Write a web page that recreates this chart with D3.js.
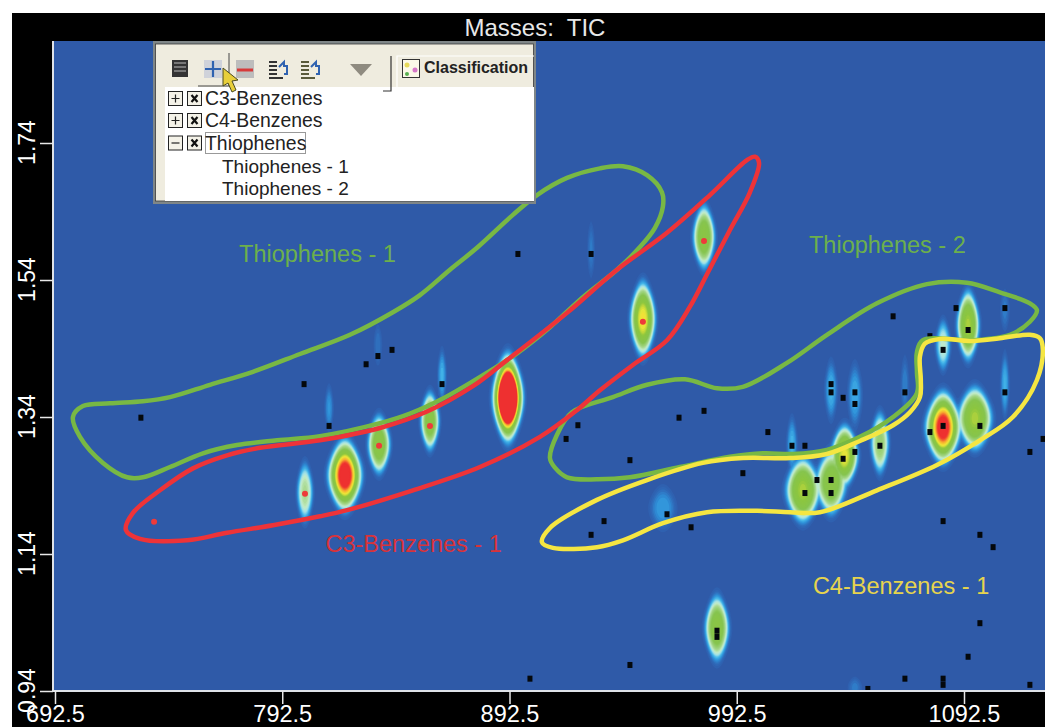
<!DOCTYPE html>
<html><head><meta charset="utf-8">
<script src="https://cdn.jsdelivr.net/npm/d3@7/dist/d3.min.js"></script>
<style>html,body{margin:0;padding:0;background:#fff;overflow:hidden}svg{display:block}text{font-family:"Liberation Sans",Arial,sans-serif}</style>
</head><body><svg id="c" width="1045" height="727"></svg>
<script>
const title = "Masses:  TIC";
const xTicks = [692.5, 792.5, 892.5, 992.5, 1092.5];
const yTicks = [0.94, 1.14, 1.34, 1.54, 1.74];

// chromatographic peaks [x, y, width, height, intensity]
const peaks = [
 [802.5,1.230,3.2,.039,.38],[820.1,1.255,6.2,.043,1.02],[835.1,1.300,4.3,.037,.62],[857.5,1.334,3.6,.037,.60],
 [891.8,1.368,5.4,.051,1.42],[951.2,1.483,4.7,.046,.80],[978.1,1.603,4.2,.040,.62],[983.8,1.032,4.6,.041,.62],
 [1021.6,1.233,6.4,.040,.72],[1034,1.244,5.8,.040,.62],[1040,1.284,5.0,.037,.78],[1055.5,1.302,3.6,.040,.45],
 [1083.3,1.325,6.4,.043,1.0],[1097.3,1.338,6.4,.039,.72],[1094.3,1.474,4.2,.043,.72],[1083.3,1.445,3.0,.034,.30],
 [1034,1.379,2.6,.041,.18],[1044.5,1.372,3,.044,.17],[1016.8,1.300,2.2,.038,.18],[1110.5,1.387,1.8,.044,.18],
 [1066.5,1.387,1.8,.041,.11],[960,1.207,5.5,.03,.15],[862.8,1.401,1.8,.036,.18],[813.1,1.353,1.8,.032,.14],
 [834.6,1.445,1.8,.03,.09],[928.4,1.584,1.6,.04,.10],[1044.5,.945,3,.015,.10],[1110.5,1.496,2,.03,.10]
];
const blackDots = [
 [730.3,1.339],[802.1,1.388],[813.1,1.327],[829.4,1.417],[834.6,1.429],[840.8,1.438],[862.8,1.388],[896.2,1.578],
 [928.4,1.578],[917.4,1.308],[922.6,1.328],[967.1,1.339],[978.1,1.349],[945.5,1.277],[995.2,1.258],[1006.2,1.318],
 [961.8,1.198],[972.4,1.179],[934.1,1.188],[928.4,1.168],[983.8,1.028],[983.8,1.019],[945.5,.978],[901.5,.958],
 [1066.5,.958],[1083.3,.958],[1083.3,.949],[1094.3,.990],[1099.5,1.039],[1121.5,.949],[1050.2,.943],
 [1061.3,1.487],[1089,1.499],[1110.5,1.499],[1094.3,1.467],[1077.5,1.458],[1083.3,1.438],[1034,1.388],[1034,1.376],
 [1044.5,1.376],[1066.5,1.376],[1110.5,1.376],[1039.3,1.368],[1044.5,1.359],[1083.3,1.327],[1099.5,1.327],[1077.5,1.318],
 [1016.8,1.298],[1022.5,1.298],[1055.5,1.298],[1127.3,1.308],[1044.5,1.289],[1121.5,1.289],[1039.3,1.279],
 [1027.8,1.248],[1034,1.248],[1022.5,1.229],[1034,1.229],[1083.3,1.188],[1099.5,1.168],[1105.3,1.150]
];
const redDots = [[736.1,1.187],[802.5,1.228],[835.1,1.298],[857.5,1.327],[951.2,1.479],[978.1,1.597]];

const thiophenes1 = [[700.4,1.340],[704.8,1.356],[716.7,1.360],[731.2,1.363],[743.1,1.369],[760.7,1.387],[779.6,1.406],[800.3,1.432],[822.3,1.460],[841.2,1.493],[853.1,1.518],[866.3,1.555],[878.2,1.587],[894.0,1.635],[904.6,1.664],[917.8,1.689],[932.3,1.703],[942.4,1.706],[953.0,1.693],[959.6,1.668],[960.0,1.647],[956.5,1.616],[949.9,1.588],[939.8,1.555],[924.8,1.515],[910.3,1.471],[895.8,1.433],[880.8,1.401],[863.2,1.367],[848.7,1.345],[835.5,1.331],[809.1,1.312],[790.2,1.306],[772.6,1.299],[757.6,1.287],[743.1,1.267],[731.2,1.252],[724.2,1.252],[713.6,1.273],[703.5,1.311]];
const c3Benzenes1 = [[723.7,1.175],[726.8,1.200],[738.7,1.233],[753.2,1.265],[768.2,1.284],[782.7,1.295],[809.1,1.306],[835.5,1.324],[856.2,1.348],[876.4,1.385],[891.4,1.423],[917.8,1.492],[939.8,1.555],[961.8,1.609],[980.7,1.664],[997.0,1.715],[1000.5,1.720],[1002.3,1.711],[998.3,1.668],[989.5,1.613],[979.8,1.551],[971.9,1.501],[961.8,1.452],[946.8,1.416],[932.3,1.379],[922.2,1.350],[905.9,1.311],[879.5,1.267],[850.0,1.233],[821.0,1.204],[809.1,1.195],[788.4,1.182],[768.2,1.171],[750.6,1.160],[729.9,1.162]];
const thiophenes2 = [[910.3,1.280],[913.4,1.314],[920.0,1.347],[938.0,1.369],[953.0,1.387],[969.7,1.395],[983.8,1.382],[995.2,1.384],[1014.6,1.419],[1032.2,1.460],[1054.2,1.506],[1076.2,1.534],[1093.8,1.536],[1108.3,1.522],[1121.5,1.506],[1124.6,1.496],[1121.5,1.479],[1112.7,1.460],[1096.4,1.452],[1074.4,1.452],[1071.8,1.435],[1071.8,1.405],[1071.8,1.375],[1061.3,1.340],[1046.7,1.311],[1032.2,1.292],[1017.2,1.286],[1004.0,1.287],[989.5,1.282],[967.5,1.267],[945.5,1.252],[931.0,1.249],[917.8,1.252],[912.5,1.266]];
const c4Benzenes1 = [[906.8,1.157],[910.3,1.178],[931.0,1.219],[953.0,1.248],[977.6,1.273],[995.2,1.280],[1016.0,1.280],[1032.2,1.286],[1046.7,1.305],[1061.3,1.328],[1068.7,1.347],[1073.1,1.369],[1073.5,1.394],[1073.1,1.428],[1075.3,1.447],[1081.9,1.454],[1095.1,1.451],[1108.3,1.455],[1121.5,1.460],[1125.9,1.455],[1127.2,1.438],[1124.6,1.394],[1114.0,1.340],[1099.5,1.306],[1080.6,1.270],[1054.2,1.233],[1029.1,1.201],[1016.0,1.201],[1001.4,1.203],[979.4,1.201],[960.0,1.185],[942.4,1.160],[931.0,1.150],[911.6,1.149]];

const regionNames = ["Thiophenes - 1","Thiophenes - 2","C3-Benzenes - 1","C4-Benzenes - 1"];
const regionPaths = [thiophenes1, thiophenes2, c3Benzenes1, c4Benzenes1];
const regionColors = ["#78b844","#78b844","#ee3338","#f5e642"];
const labelColors = ["#6cb04c","#6cb04c","#d8333a","#e6d44e"];
const labelAt = [[808,1.579],[1058.8,1.591],[850.3,1.155],[1064.8,1.093]];

const treeRows = ["C3-Benzenes","C4-Benzenes","Thiophenes"];
const treeLeaves = ["Thiophenes - 1","Thiophenes - 2"];

const rampStops = [0,.06,.12,.18,.24,.30,.38,.5,.68,.78,.86,.94];
const rampColors = ["#2f5aa8","#2f68b8","#2e8fd8","#45b8ea","#9fe0e8","#c3ecc8","#a5d68a","#86c450","#8cc63f","#f0e838","#f8b030","#ee3030"];

const svg = d3.select("#c");
const L=53,T=41,R=1045,B=691;
const x = d3.scaleLinear().domain([692.5,1092.5]).range([55,964]);
const y = d3.scaleLinear().domain([0.94,1.74]).range([691,143]);
const color = d3.scaleLinear().domain(rampStops).range(rampColors).clamp(true);

svg.append("rect").attr("x",12).attr("y",13).attr("width",1033).attr("height",714).attr("fill","#000");
const defs = svg.append("defs");
defs.append("clipPath").attr("id","plot").append("rect").attr("x",L).attr("y",T).attr("width",R-L).attr("height",B-T);
const plot = svg.append("g").attr("clip-path","url(#plot)");
plot.append("rect").attr("x",L).attr("y",T).attr("width",R-L).attr("height",B-T).attr("fill",rampColors[0]);

// intensity field
const step=2, nx=Math.ceil((R-L)/step)+1, ny=Math.ceil((B-T)/step)+1;
const field=new Float64Array(nx*ny);
peaks.forEach(([px,py,sx,sy,a])=>{
  for(let j=0;j<ny;j++){
    const u=(y.invert(T+j*step)-py)/sy;
    if(Math.abs(u)>3) continue;
    for(let i=0;i<nx;i++){
      const v=(x.invert(L+i*step)-px)/sx;
      if(Math.abs(v)>3) continue;
      const r2=v*v*(1+.5*u*u)+u*u;
      const z=a*Math.exp(-Math.pow(r2,1.5));
      const k=j*nx+i;
      field[k]=Math.max(field[k],z)+Math.min(field[k],z)*.12;
    }
  }
});
const contours=d3.contours().size([nx,ny]).thresholds(d3.range(.03,1.0,.02))(Array.from(field));
const geo=d3.geoPath(d3.geoIdentity().scale(step).translate([L-step/2,T-step/2]));
plot.append("g").selectAll("path").data(contours).join("path").attr("d",geo).attr("fill",d=>color(d.value));

// detected compounds
plot.append("g").selectAll("rect").data(blackDots).join("rect")
 .attr("x",d=>x(d[0])-2.5).attr("y",d=>y(d[1])-3).attr("width",5).attr("height",6).attr("fill","#04080c");
plot.append("g").selectAll("circle").data(redDots).join("circle")
 .attr("cx",d=>x(d[0])).attr("cy",d=>y(d[1])).attr("r",3).attr("fill","#ee3a3a");

// classification regions
const line=d3.line().x(d=>x(d[0])).y(d=>y(d[1])).curve(d3.curveCatmullRomClosed.alpha(.5));
plot.append("g").selectAll("path").data(regionPaths).join("path")
 .attr("d",line).attr("fill","none").attr("stroke",(d,i)=>regionColors[i]).attr("stroke-width",4.5);
svg.append("g").selectAll("text").data(regionNames).join("text")
 .attr("x",(d,i)=>x(labelAt[i][0])).attr("y",(d,i)=>y(labelAt[i][1])).attr("dy","0.35em")
 .attr("text-anchor","middle").attr("font-size",23.5).attr("fill",(d,i)=>labelColors[i]).text(d=>d);

// axes
const gx=svg.append("g").attr("transform",`translate(0,${B})`)
 .call(d3.axisBottom(x).tickValues(xTicks).tickFormat(d3.format(".1f")).tickSize(13).tickPadding(3));
gx.select(".domain").attr("d",`M${L},0H${R}`);
const gy=svg.append("g").attr("transform",`translate(${L},0)`)
 .call(d3.axisLeft(y).tickValues(yTicks).tickFormat(d3.format(".2f")).tickSize(13));
gy.select(".domain").attr("d",`M0,${T}V${B}`);
[gx,gy].forEach(g=>{
  g.select(".domain").attr("stroke","#dfe3e8").attr("stroke-width",2).attr("fill","none");
  g.selectAll(".tick line").attr("stroke","#e8e8e8").attr("stroke-width",1.5);
  g.selectAll("text").attr("fill","#fff").attr("font-family",'"Liberation Sans",Arial,sans-serif');
});
gx.selectAll("text").attr("font-size",23.5).attr("y",31).attr("dy",0);
gy.selectAll("text").attr("font-size",23).attr("text-anchor","middle").attr("dy",0)
 .attr("x",0).attr("y",0).attr("transform","translate(-18,-1) rotate(-90)");

svg.append("text").attr("x",535).attr("y",36).attr("text-anchor","middle").attr("font-size",24)
 .attr("fill","#e8e8e8").attr("xml:space","preserve").text(title);

// classification panel
const p=svg.append("g");
p.append("rect").attr("x",153).attr("y",41).attr("width",383).attr("height",163).attr("fill","#7f8688");
p.append("rect").attr("x",155.5).attr("y",44).attr("width",378).attr("height",157).attr("fill","#efecdf").attr("stroke","#3a3a3a").attr("stroke-width",.8);
p.append("rect").attr("x",165).attr("y",87).attr("width",369).attr("height",114).attr("fill","#fff");
// toolbar
p.append("rect").attr("x",198).attr("y",53).attr("width",31).attr("height",33).attr("fill","#efecdf");
p.append("path").attr("d","M198,86H229M229,53V86").attr("stroke","#444").attr("stroke-width",1).attr("fill","none");
p.append("rect").attr("x",172).attr("y",60).attr("width",16).attr("height",17).attr("fill","#333");
p.append("path").attr("d","M174,63H186M174,67H186M174,71H186").attr("stroke","#bbb").attr("stroke-width",1.2);
p.append("rect").attr("x",204).attr("y",60).attr("width",18).attr("height",18).attr("fill","#cfd2da");
p.append("path").attr("d","M205,69H221M213,61V77").attr("stroke","#2f62b0").attr("stroke-width",2.2);
p.append("rect").attr("x",236).attr("y",60).attr("width",18).attr("height",18).attr("fill","#bdbdbd");
p.append("path").attr("d","M237,70H253").attr("stroke","#d63a3a").attr("stroke-width",3);
[269,301].forEach((ix,n)=>{
  p.append("path").attr("d",`M${ix},${62}h8M${ix},${66}h8M${ix},${70}h8M${ix},${74}h8M${ix},${78}h14`).attr("stroke",n?"#5a5a3a":"#333").attr("stroke-width",2);
  p.append("path").attr("d",`M${ix+10},${67}l5,-5v4h3v8h-3`).attr("fill","none").attr("stroke","#2f62b0").attr("stroke-width",2);
});
p.append("path").attr("d","M350,64H372L361,76Z").attr("fill","#8f8b80");
p.append("path").attr("d","M383,91H391V56").attr("fill","none").attr("stroke","#333").attr("stroke-width",1.2);
p.append("path").attr("d","M397,87V56H534").attr("fill","none").attr("stroke","#fff").attr("stroke-width",1.2);
p.append("rect").attr("x",402.5).attr("y",59.5).attr("width",17).attr("height",18).attr("fill","#fbf8e8").attr("stroke","#333");
p.append("circle").attr("cx",407).attr("cy",65).attr("r",2.5).attr("fill","#e6d95a");
p.append("circle").attr("cx",415).attr("cy",70).attr("r",2.5).attr("fill","#d678c8");
p.append("circle").attr("cx",407).attr("cy",74).attr("r",2).attr("fill","#58b050");
p.append("text").attr("x",424).attr("y",73).attr("font-size",16).attr("font-weight","bold").attr("fill","#222").text("Classification");
// tree
const rowY=[98.5,120.5,143];
treeRows.forEach((t,i)=>{
  const c=rowY[i];
  p.append("rect").attr("x",168.5).attr("y",c-7).attr("width",14).attr("height",14).attr("fill","#f4f2e8").attr("stroke","#222");
  p.append("path").attr("d",i==2?`M171.5,${c}h8`:`M171.5,${c}h8M175.5,${c-4}v8`).attr("stroke","#222").attr("stroke-width",1.2);
  p.append("rect").attr("x",187.5).attr("y",c-7).attr("width",14).attr("height",14).attr("fill","#f4f2e8").attr("stroke","#222");
  p.append("path").attr("d",`M191.5,${c-3.5}l6,7M197.5,${c-3.5}l-6,7`).attr("stroke","#111").attr("stroke-width",2.2);
  p.append("text").attr("x",205).attr("y",c).attr("dy","0.36em").attr("font-size",19.4).attr("fill","#222").text(t);
});
p.append("rect").attr("x",205.5).attr("y",132.5).attr("width",100).attr("height",21).attr("fill","none").attr("stroke","#333").attr("stroke-dasharray","1,1");
treeLeaves.forEach((t,i)=>{
  p.append("text").attr("x",222).attr("y",166+22*i).attr("dy","0.36em").attr("font-size",19).attr("fill","#222").text(t);
});
// pointer
p.append("path").attr("d","M223,68V86L228,83L232,92L236,90L232,81L238,80Z").attr("fill","#e8cf3a").attr("stroke","#4a4a20").attr("stroke-width",1);
</script></body></html>
